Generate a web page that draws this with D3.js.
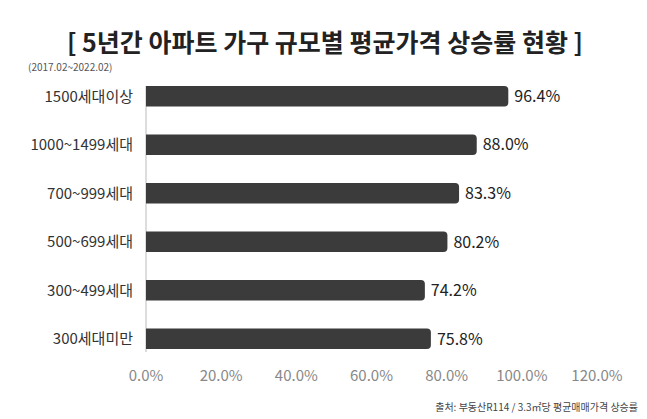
<!DOCTYPE html>
<html><head><meta charset="utf-8">
<script src="https://cdn.jsdelivr.net/npm/d3@7"></script>
<style>body{margin:0;background:#fff}</style>
</head><body>
<script>
const categories = ["1500세대이상","1000~1499세대","700~999세대","500~699세대","300~499세대","300세대미만"];
const values = [96.4, 88.0, 83.3, 80.2, 74.2, 75.8];
const tickValues = [0,20,40,60,80,100,120];

const W=647,H=419;
const svg=d3.select("body").append("svg").attr("width",W).attr("height",H)
  .style("font-family","'Noto Sans CJK KR','Noto Sans',sans-serif");
svg.append("text").attr("x",325).attr("y",52).attr("text-anchor","middle")
  .attr("font-size",25).attr("font-weight",700).attr("fill","#222")
  .text("[ 5년간 아파트 가구 규모별 평균가격 상승률 현황 ]");
svg.append("text").attr("x",28).attr("y",71).attr("font-size",10).attr("fill","#555").text("(2017.02~2022.02)");

const x=d3.scaleLinear().domain([0,120]).range([146,597]);
const y=d3.scaleBand().domain(categories).range([86,349]).paddingInner(0.58).paddingOuter(0);

svg.append("line").attr("x1",x(0)).attr("x2",x(0)).attr("y1",86).attr("y2",352).attr("stroke","#bbb");
const g=svg.append("g");
categories.forEach((c,i)=>{
  const h=y.bandwidth(), yc=y(c)+h/2, y0=yc-h/2, x1=x(values[i]);
  g.append("path").attr("fill","#3b3b3b")
   .attr("d",`M${x(0)},${y0}H${x1-4}Q${x1},${y0} ${x1},${y0+4}V${y0+h-4}Q${x1},${y0+h} ${x1-4},${y0+h}H${x(0)}Z`);
  g.append("text").attr("x",x1+6).attr("y",yc).attr("dy","0.36em")
   .attr("font-size",16).attr("fill","#222").text(values[i].toFixed(1)+"%");
  g.append("text").attr("x",133).attr("y",yc).attr("dy","0.36em").attr("text-anchor","end")
   .attr("font-size",15).attr("fill","#333").text(c);
});
tickValues.forEach(t=>{
  svg.append("text").attr("x",x(t)).attr("y",381).attr("text-anchor","middle")
   .attr("font-size",15).attr("fill","#888").text(t.toFixed(1)+"%");
});
svg.append("text").attr("x",638).attr("y",411).attr("text-anchor","end")
  .attr("font-size",10).attr("fill","#444").text("출처: 부동산R114 / 3.3㎡당 평균매매가격 상승률");
</script>
</body></html>
